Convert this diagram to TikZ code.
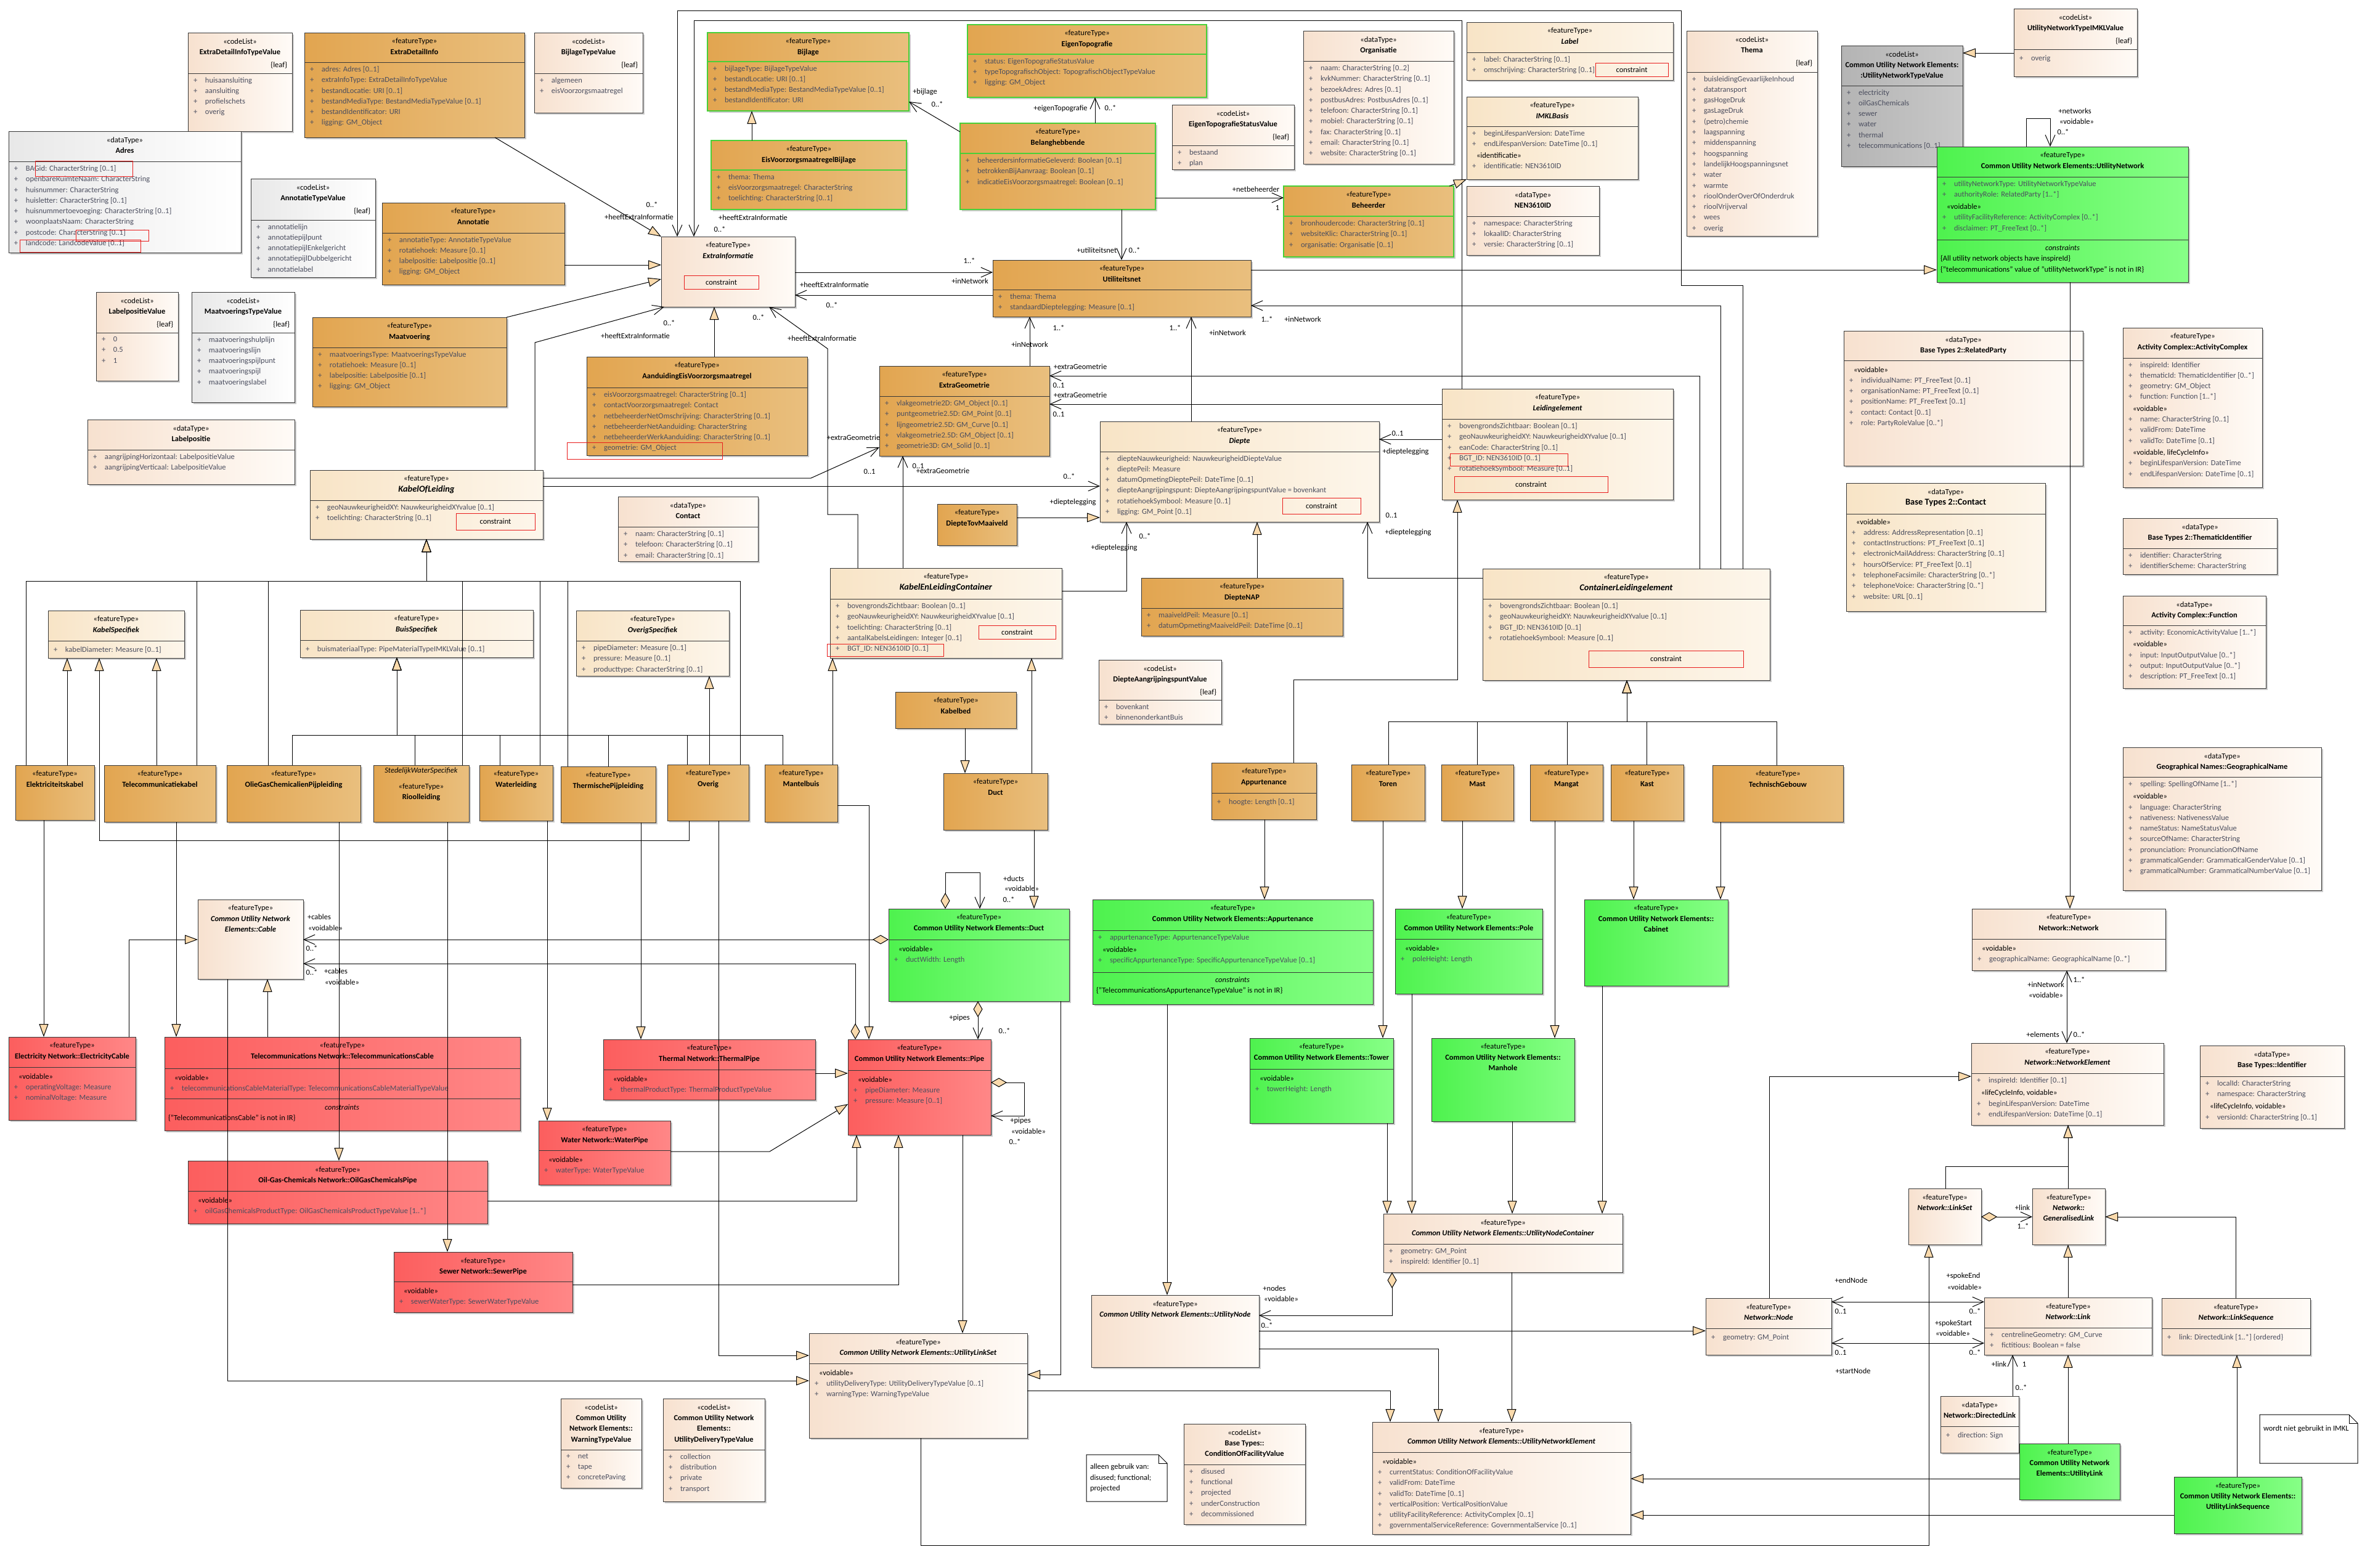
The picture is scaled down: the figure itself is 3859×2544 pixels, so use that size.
\documentclass[tikz,border=0pt]{standalone}
\usepackage{fontspec}
\setmainfont{Carlito}
\usetikzlibrary{arrows.meta,shadows}
\definecolor{orL}{RGB}{226,165,80}
\definecolor{orR}{RGB}{233,191,126}
\definecolor{peL}{RGB}{247,225,207}
\definecolor{peR}{RGB}{255,251,247}
\definecolor{yeL}{RGB}{248,228,198}
\definecolor{yeR}{RGB}{253,246,235}
\definecolor{grL}{RGB}{232,232,232}
\definecolor{gnL}{RGB}{78,242,78}
\definecolor{gnR}{RGB}{135,255,135}
\definecolor{rdL}{RGB}{252,94,94}
\definecolor{rdR}{RGB}{255,135,135}
\definecolor{gsL}{RGB}{180,180,180}
\definecolor{gsR}{RGB}{200,200,200}
\definecolor{genf}{RGB}{250,218,172}
\definecolor{attrc}{RGB}{75,78,95}
\definecolor{bordc}{RGB}{55,55,55}
\definecolor{grb}{RGB}{72,208,56}
\definecolor{redc}{RGB}{232,28,28}
\newcommand\fs{\fontsize{12.5}{17.3}\selectfont}
\newcommand\fsl{\fontsize{14.5}{17.3}\selectfont}
\newcommand\pa[1]{\makebox[19pt][l]{+}#1}
\newcommand\stt[1]{\hspace*{7pt}{\color{black}#1}}
\newcommand\ubx[7]{\node[#2, minimum width={#5-#3}, minimum height={#6-#4}, anchor=north west] (#1) at (#3,#4) {};\node[hdt, anchor=north] (#1-h) at ({(#3+#5)/2},#4+9.4) {#7};}
\newcommand\usl[2]{\draw[line width=1pt, bordc] (#1.west |- 0,#2) -- (#1.east |- 0,#2);}
\newcommand\uslg[2]{\draw[line width=2pt, grb] (#1.west |- 0,#2) -- (#1.east |- 0,#2);}
\newcommand\ubd[4]{\node[bdt, anchor=north west] (#1-b) at (#2+9,#3+6.4) {#4};}
\newcommand\uleaf[3]{\node[hdt, anchor=north east] (#1-l) at (#2-8,#3+44) {\{leaf\}};}
\newcommand\cbox[5]{\draw[rbx] (#2,#3) rectangle (#4,#5); \node[hdt] (#1) at ({(#2+#4)/2},{(#3+#5)/2+1}) {constraint};}
\begin{document}
\begin{tikzpicture}[x=1pt,y=-1pt,
  every node/.style={inner sep=0pt,outer sep=0pt},
  bx/.style={draw=bordc,line width=1pt,drop shadow={shadow xshift=3pt,shadow yshift=-3pt,opacity=0.2,fill=black}},
  orng/.style={bx,left color=orL,right color=orR},
  orgr/.style={bx,draw=grb,line width=2pt,left color=orL,right color=orR},
  pch/.style={bx,left color=peL,right color=peR},
  yel/.style={bx,left color=yeL,right color=yeR},
  gry/.style={bx,left color=grL,right color=white},
  gsol/.style={bx,left color=gsL,right color=gsR},
  grn/.style={bx,left color=gnL,right color=gnR},
  rd/.style={bx,left color=rdL,right color=rdR},
  hdt/.style={font=\fs,align=center,text=black,execute at begin node=\strut},
  bdt/.style={font=\fs,align=left,text=attrc,execute at begin node=\strut},
  lbl/.style={font=\fs},
  rbx/.style={draw=redc,line width=1pt},
  gen/.style={line width=1pt,-{Triangle[length=21pt,width=15pt,fill=genf]}},
  nav/.style={line width=1pt,-{Straight Barb[length=18pt,width=16pt]}},
  nav2/.style={line width=1pt,{Straight Barb[length=18pt,width=16pt]}-{Straight Barb[length=18pt,width=16pt]}},
  agg/.style={line width=1pt,{Diamond[length=26pt,width=15pt,fill=genf]}-{Straight Barb[length=18pt,width=16pt]}},
]
\fill[white] (0,0) rectangle (3859,2544);
\useasboundingbox (0,0) rectangle (3859,2544);

% ---------------- top-left area
\ubx{edtv}{pch}{305}{53}{474}{213}{«codeList»\\\textbf{ExtraDetailInfoTypeValue}}
\uleaf{edtv}{474}{53}
\usl{edtv}{119}
\ubd{edtv}{305}{119}{\pa{huisaansluiting}\\\pa{aansluiting}\\\pa{profielschets}\\\pa{overig}}

\ubx{edi}{orng}{494}{53}{851}{223}{«featureType»\\\textbf{ExtraDetailInfo}}
\usl{edi}{101}
\ubd{edi}{494}{101}{\pa{adres: Adres [0..1]}\\\pa{extraInfoType: ExtraDetailInfoTypeValue}\\\pa{bestandLocatie: URI [0..1]}\\\pa{bestandMediaType: BestandMediaTypeValue [0..1]}\\\pa{bestandIdentificator: URI}\\\pa{ligging: GM\_Object}}

\ubx{adres}{gry}{14}{213}{391}{410}{«dataType»\\\textbf{Adres}}
\usl{adres}{262}
\ubd{adres}{14}{262}{\pa{BAGid: CharacterString [0..1]}\\\pa{openbareRuimteNaam: CharacterString}\\\pa{huisnummer: CharacterString}\\\pa{huisletter: CharacterString [0..1]}\\\pa{huisnummertoevoeging: CharacterString [0..1]}\\\pa{woonplaatsNaam: CharacterString}\\\pa{postcode: CharacterString [0..1]}\\\pa{landcode: LandcodeValue [0..1]}}
\draw[rbx] (57,261) rectangle (215,286);
\draw[rbx] (123,373) rectangle (241,391);
\draw[rbx] (32,389) rectangle (228,409);

\ubx{bijtv}{pch}{867}{53}{1043}{183}{«codeList»\\\textbf{BijlageTypeValue}}
\uleaf{bijtv}{1043}{53}
\usl{bijtv}{119}
\ubd{bijtv}{867}{119}{\pa{algemeen}\\\pa{eisVoorzorgsmaatregel}}

\ubx{annotv}{gry}{407}{290}{609}{450}{«codeList»\\\textbf{AnnotatieTypeValue}}
\uleaf{annotv}{609}{290}
\usl{annotv}{357}
\ubd{annotv}{407}{357}{\pa{annotatielijn}\\\pa{annotatiepijlpunt}\\\pa{annotatiepijlEnkelgericht}\\\pa{annotatiepijlDubbelgericht}\\\pa{annotatielabel}}

\ubx{annot}{orng}{620}{329}{916}{462}{«featureType»\\\textbf{Annotatie}}
\usl{annot}{378}
\ubd{annot}{620}{378}{\pa{annotatieType: AnnotatieTypeValue}\\\pa{rotatiehoek: Measure [0..1]}\\\pa{labelpositie: Labelpositie [0..1]}\\\pa{ligging: GM\_Object}}

\ubx{lpv}{pch}{156}{474}{289}{618}{«codeList»\\\textbf{LabelpositieValue}}
\uleaf{lpv}{289}{474}
\usl{lpv}{540}
\ubd{lpv}{156}{540}{\pa{0}\\\pa{0.5}\\\pa{1}}

\ubx{mtv}{gry}{311}{474}{478}{653}{«codeList»\\\textbf{MaatvoeringsTypeValue}}
\uleaf{mtv}{478}{474}
\usl{mtv}{540}
\ubd{mtv}{311}{540}{\pa{maatvoeringshulplijn}\\\pa{maatvoeringslijn}\\\pa{maatvoeringspijlpunt}\\\pa{maatvoeringspijl}\\\pa{maatvoeringslabel}}

\ubx{maat}{orng}{507}{515}{822}{660}{«featureType»\\\textbf{Maatvoering}}
\usl{maat}{564}
\ubd{maat}{507}{564}{\pa{maatvoeringsType: MaatvoeringsTypeValue}\\\pa{rotatiehoek: Measure [0..1]}\\\pa{labelpositie: Labelpositie [0..1]}\\\pa{ligging: GM\_Object}}

\ubx{lp}{pch}{142}{681}{478}{786}{«dataType»\\\textbf{Labelpositie}}
\usl{lp}{730}
\ubd{lp}{142}{730}{\pa{aangrijpingHorizontaal: LabelpositieValue}\\\pa{aangrijpingVerticaal: LabelpositieValue}}

\ubx{kol}{yel}{503}{763}{881}{875}{«featureType»\\{\fsl\textbf{\textit{KabelOfLeiding}}}}
\usl{kol}{812}
\ubd{kol}{503}{812}{\pa{geoNauwkeurigheidXY: NauwkeurigheidXYvalue [0..1]}\\\pa{toelichting: CharacterString [0..1]}}
\cbox{kolc}{740}{833}{868}{860}

% ---------------- top-middle
\ubx{bijlage}{orgr}{1148}{53}{1475}{180}{«featureType»\\\textbf{Bijlage}}
\uslg{bijlage}{100}
\ubd{bijlage}{1148}{100}{\pa{bijlageType: BijlageTypeValue}\\\pa{bestandLocatie: URI [0..1]}\\\pa{bestandMediaType: BestandMediaTypeValue [0..1]}\\\pa{bestandIdentificator: URI}}

\ubx{evb}{orgr}{1154}{228}{1471}{340}{«featureType»\\\textbf{EisVoorzorgsmaatregelBijlage}}
\uslg{evb}{276}
\ubd{evb}{1154}{276}{\pa{thema: Thema}\\\pa{eisVoorzorgsmaatregel: CharacterString}\\\pa{toelichting: CharacterString [0..1]}}

\ubx{eigtopo}{orgr}{1570}{40}{1958}{158}{«featureType»\\\textbf{EigenTopografie}}
\uslg{eigtopo}{88}
\ubd{eigtopo}{1570}{88}{\pa{status: EigenTopografieStatusValue}\\\pa{typeTopografischObject: TopografischObjectTypeValue}\\\pa{ligging: GM\_Object}}

\ubx{belang}{orgr}{1558}{200}{1875}{340}{«featureType»\\\textbf{Belanghebbende}}
\uslg{belang}{249}
\ubd{belang}{1558}{249}{\pa{beheerdersinformatieGeleverd: Boolean [0..1]}\\\pa{betrokkenBijAanvraag: Boolean [0..1]}\\\pa{indicatieEisVoorzorgsmaatregel: Boolean [0..1]}}

\ubx{etsv}{pch}{1902}{170}{2100}{275}{«codeList»\\\textbf{EigenTopografieStatusValue}}
\uleaf{etsv}{2100}{170}
\usl{etsv}{236}
\ubd{etsv}{1902}{236}{\pa{bestaand}\\\pa{plan}}

\ubx{extrainf}{pch}{1073}{384}{1290}{498}{«featureType»\\\textbf{\textit{ExtraInformatie}}}
\cbox{eic}{1110}{447}{1231}{469}

\ubx{util}{orng}{1611}{422}{2030}{514}{«featureType»\\\textbf{Utiliteitsnet}}
\usl{util}{470}
\ubd{util}{1611}{470}{\pa{thema: Thema}\\\pa{standaardDieptelegging: Measure [0..1]}}

\ubx{aanduid}{orng}{952}{579}{1310}{739}{«featureType»\\\textbf{AanduidingEisVoorzorgsmaatregel}}
\usl{aanduid}{629}
\ubd{aanduid}{952}{629}{\pa{eisVoorzorgsmaatregel: CharacterString [0..1]}\\\pa{contactVoorzorgsmaatregel: Contact}\\\pa{netbeheerderNetOmschrijving: CharacterString [0..1]}\\\pa{netbeheerderNetAanduiding: CharacterString}\\\pa{netbeheerderWerkAanduiding: CharacterString [0..1]}\\\pa{geometrie: GM\_Object}}
\draw[rbx] (920,718) rectangle (1172,745);

\ubx{extrageo}{orng}{1427}{594}{1703}{740}{«featureType»\\\textbf{ExtraGeometrie}}
\usl{extrageo}{643}
\ubd{extrageo}{1427}{643}{\pa{vlakgeometrie2D: GM\_Object [0..1]}\\\pa{puntgeometrie2.5D: GM\_Point [0..1]}\\\pa{lijngeometrie2.5D: GM\_Curve [0..1]}\\\pa{vlakgeometrie2.5D: GM\_Object [0..1]}\\\pa{geometrie3D: GM\_Solid [0..1]}}

\ubx{contact}{pch}{1003}{806}{1230}{911}{«dataType»\\\textbf{Contact}}
\usl{contact}{855}
\ubd{contact}{1003}{855}{\pa{naam: CharacterString [0..1]}\\\pa{telefoon: CharacterString [0..1]}\\\pa{email: CharacterString [0..1]}}

\ubx{diepte}{yel}{1785}{684}{2238}{847}{«featureType»\\\textbf{\textit{Diepte}}}
\usl{diepte}{733}
\ubd{diepte}{1785}{733}{\pa{diepteNauwkeurigheid: NauwkeurigheidDiepteValue}\\\pa{dieptePeil: Measure}\\\pa{datumOpmetingDieptePeil: DateTime [0..1]}\\\pa{diepteAangrijpingspunt: DiepteAangrijpingspuntValue = bovenkant}\\\pa{rotatiehoekSymbool: Measure [0..1]}\\\pa{ligging: GM\_Point [0..1]}}
\cbox{dpc}{2081}{808}{2208}{834}

\ubx{dtm}{orng}{1521}{818}{1650}{885}{«featureType»\\\textbf{DiepteTovMaaiveld}}

% ---------------- top-right
\ubx{organ}{pch}{2115}{50}{2359}{266}{«dataType»\\\textbf{Organisatie}}
\usl{organ}{99}
\ubd{organ}{2115}{99}{\pa{naam: CharacterString [0..2]}\\\pa{kvkNummer: CharacterString [0..1]}\\\pa{bezoekAdres: Adres [0..1]}\\\pa{postbusAdres: PostbusAdres [0..1]}\\\pa{telefoon: CharacterString [0..1]}\\\pa{mobiel: CharacterString [0..1]}\\\pa{fax: CharacterString [0..1]}\\\pa{email: CharacterString [0..1]}\\\pa{website: CharacterString [0..1]}}

\ubx{label}{yel}{2380}{36}{2715}{130}{«featureType»\\\textbf{\textit{Label}}}
\usl{label}{85}
\ubd{label}{2380}{85}{\pa{label: CharacterString [0..1]}\\\pa{omschrijving: CharacterString [0..1]}}
\cbox{lbc}{2589}{102}{2707}{124}

\ubx{imkl}{yel}{2380}{157}{2658}{291}{«featureType»\\\textbf{\textit{IMKLBasis}}}
\usl{imkl}{205}
\ubd{imkl}{2380}{205}{\pa{beginLifespanVersion: DateTime}\\\pa{endLifespanVersion: DateTime [0..1]}\\[2pt]\stt{«identificatie»}\\\pa{identificatie: NEN3610ID}}

\ubx{nen}{pch}{2380}{302}{2595}{414}{«dataType»\\\textbf{NEN3610ID}}
\usl{nen}{351}
\ubd{nen}{2380}{351}{\pa{namespace: CharacterString}\\\pa{lokaalID: CharacterString}\\\pa{versie: CharacterString [0..1]}}

\ubx{thema}{pch}{2737}{50}{2949}{383}{«codeList»\\\textbf{Thema}}
\uleaf{thema}{2949}{50}
\usl{thema}{117}
\ubd{thema}{2737}{117}{\pa{buisleidingGevaarlijkeInhoud}\\\pa{datatransport}\\\pa{gasHogeDruk}\\\pa{gasLageDruk}\\\pa{(petro)chemie}\\\pa{laagspanning}\\\pa{middenspanning}\\\pa{hoogspanning}\\\pa{landelijkHoogspanningsnet}\\\pa{water}\\\pa{warmte}\\\pa{rioolOnderOverOfOnderdruk}\\\pa{rioolVrijverval}\\\pa{wees}\\\pa{overig}}

\ubx{beheerder}{orgr}{2083}{302}{2359}{417}{«featureType»\\\textbf{Beheerder}}
\uslg{beheerder}{351}
\ubd{beheerder}{2083}{351}{\pa{bronhoudercode: CharacterString [0..1]}\\\pa{websiteKlic: CharacterString [0..1]}\\\pa{organisatie: Organisatie [0..1]}}

\ubx{leidel}{yel}{2340}{631}{2715}{811}{«featureType»\\\textbf{\textit{Leidingelement}}}
\usl{leidel}{680}
\ubd{leidel}{2340}{680}{\pa{bovengrondsZichtbaar: Boolean [0..1]}\\\pa{geoNauwkeurigheidXY: NauwkeurigheidXYvalue [0..1]}\\\pa{eanCode: CharacterString [0..1]}\\\pa{BGT\_ID: NEN3610ID [0..1]}\\\pa{rotatiehoekSymbool: Measure [0..1]}}
\draw[rbx] (2353,736) rectangle (2544,756);
\cbox{lec}{2360}{773}{2609}{799}

\ubx{untv}{gsol}{2988}{74}{3185}{270}{«codeList»\\\textbf{Common Utility Network Elements:}\\\textbf{:UtilityNetworkTypeValue}}
\usl{untv}{139}
\ubd{untv}{2988}{139}{\pa{electricity}\\\pa{oilGasChemicals}\\\pa{sewer}\\\pa{water}\\\pa{thermal}\\\pa{telecommunications [0..1]}}

\ubx{untimkl}{pch}{3268}{14}{3468}{124}{«codeList»\\\textbf{UtilityNetworkTypeIMKLValue}}
\uleaf{untimkl}{3468}{14}
\usl{untimkl}{80}
\ubd{untimkl}{3268}{80}{\pa{overig}}

\ubx{un}{grn}{3143}{238}{3551}{458}{«featureType»\\\textbf{Common Utility Network Elements::UtilityNetwork}}
\usl{un}{287}
\ubd{un}{3143}{287}{\pa{utilityNetworkType: UtilityNetworkTypeValue}\\\pa{authorityRole: RelatedParty [1..*]}\\[3pt]\stt{«voidable»}\\\pa{utilityFacilityReference: ActivityComplex [0..*]}\\\pa{disclaimer: PT\_FreeText [0..*]}}
\usl{un}{389}
\node[hdt,font=\fs\itshape] (un-c) at (3347,403) {constraints};
\node[hdt,anchor=west] (un-c1) at (3149,420) {\{All utility network objects have inspireId\}};
\node[hdt,anchor=west] (un-c2) at (3149,438) {\{"telecommunications" value of "utilityNetworkType" is not in IR\}};

\ubx{rp}{pch}{2992}{537}{3380}{756}{«dataType»\\\textbf{Base Types 2::RelatedParty}}
\usl{rp}{585}
\ubd{rp}{2992}{589}{\stt{«voidable»}\\\pa{individualName: PT\_FreeText [0..1]}\\\pa{organisationName: PT\_FreeText [0..1]}\\\pa{positionName: PT\_FreeText [0..1]}\\\pa{contact: Contact [0..1]}\\\pa{role: PartyRoleValue [0..*]}}

\ubx{ac}{pch}{3445}{532}{3671}{791}{«featureType»\\\textbf{Activity Complex::ActivityComplex}}
\usl{ac}{581}
\ubd{ac}{3445}{581}{\pa{inspireId: Identifier}\\\pa{thematicId: ThematicIdentifier [0..*]}\\\pa{geometry: GM\_Object}\\\pa{function: Function [1..*]}\\[2pt]\stt{«voidable»}\\\pa{name: CharacterString [0..1]}\\\pa{validFrom: DateTime}\\\pa{validTo: DateTime [0..1]}\\[2pt]\stt{«voidable, lifeCycleInfo»}\\\pa{beginLifespanVersion: DateTime}\\\pa{endLifespanVersion: DateTime [0..1]}}

\ubx{bcontact}{yel}{2996}{784}{3319}{992}{«dataType»\\{\fsl\textbf{Base Types 2::Contact}}}
\usl{bcontact}{834}
\ubd{bcontact}{2996}{836}{\stt{«voidable»}\\\pa{address: AddressRepresentation [0..1]}\\\pa{contactInstructions: PT\_FreeText [0..1]}\\\pa{electronicMailAddress: CharacterString [0..1]}\\\pa{hoursOfService: PT\_FreeText [0..1]}\\\pa{telephoneFacsimile: CharacterString [0..*]}\\\pa{telephoneVoice: CharacterString [0..*]}\\\pa{website: URL [0..1]}}

\ubx{thid}{pch}{3445}{841}{3695}{932}{«dataType»\\\textbf{Base Types 2::ThematicIdentifier}}
\usl{thid}{890}
\ubd{thid}{3445}{890}{\pa{identifier: CharacterString}\\\pa{identifierScheme: CharacterString}}

\ubx{func}{pch}{3445}{967}{3677}{1117}{«dataType»\\\textbf{Activity Complex::Function}}
\usl{func}{1015}
\ubd{func}{3445}{1015}{\pa{activity: EconomicActivityValue [1..*]}\\[2pt]\stt{«voidable»}\\\pa{input: InputOutputValue [0..*]}\\\pa{output: InputOutputValue [0..*]}\\\pa{description: PT\_FreeText [0..1]}}

\ubx{geon}{pch}{3445}{1213}{3767}{1445}{«dataType»\\\textbf{Geographical Names::GeographicalName}}
\usl{geon}{1261}
\ubd{geon}{3445}{1261}{\pa{spelling: SpellingOfName [1..*]}\\[3pt]\stt{«voidable»}\\\pa{language: CharacterString}\\\pa{nativeness: NativenessValue}\\\pa{nameStatus: NameStatusValue}\\\pa{sourceOfName: CharacterString}\\\pa{pronunciation: PronunciationOfName}\\\pa{grammaticalGender: GrammaticalGenderValue [0..1]}\\\pa{grammaticalNumber: GrammaticalNumberValue [0..1]}}

\ubx{network}{pch}{3200}{1475}{3514}{1575}{«featureType»\\\textbf{Network::Network}}
\usl{network}{1524}
\ubd{network}{3200}{1528}{\stt{«voidable»}\\\pa{geographicalName: GeographicalName [0..*]}}

\ubx{ne}{pch}{3199}{1693}{3511}{1826}{«featureType»\\\textbf{\textit{Network::NetworkElement}}}
\usl{ne}{1742}
\ubd{ne}{3199}{1742}{\pa{inspireId: Identifier [0..1]}\\[3pt]\stt{«lifeCycleInfo, voidable»}\\\pa{beginLifespanVersion: DateTime}\\\pa{endLifespanVersion: DateTime [0..1]}}

\ubx{ident}{pch}{3570}{1697}{3804}{1831}{«dataType»\\\textbf{Base Types::Identifier}}
\usl{ident}{1747}
\ubd{ident}{3570}{1747}{\pa{localId: CharacterString}\\\pa{namespace: CharacterString}\\[3pt]\stt{«lifeCycleInfo, voidable»}\\\pa{versionId: CharacterString [0..1]}}

\ubx{linkset}{pch}{3097}{1929}{3215}{2020}{«featureType»\\\textbf{\textit{Network::LinkSet}}}
\ubx{glink}{pch}{3298}{1929}{3416}{2020}{«featureType»\\\textbf{\textit{Network::}}\\\textbf{\textit{GeneralisedLink}}}

\ubx{link}{pch}{3220}{2106}{3492}{2199}{«featureType»\\\textbf{\textit{Network::Link}}}
\usl{link}{2155}
\ubd{link}{3220}{2155}{\pa{centrelineGeometry: GM\_Curve}\\\pa{fictitious: Boolean = false}}

\ubx{lseq}{pch}{3508}{2107}{3749}{2199}{«featureType»\\\textbf{\textit{Network::LinkSequence}}}
\usl{lseq}{2156}
\ubd{lseq}{3508}{2156}{\pa{link: DirectedLink [1..*] \{ordered\}}}

\ubx{node}{pch}{2768}{2107}{2972}{2199}{«featureType»\\\textbf{\textit{Network::Node}}}
\usl{node}{2156}
\ubd{node}{2768}{2156}{\pa{geometry: GM\_Point}}

\ubx{dlink}{pch}{3149}{2266}{3276}{2358}{«dataType»\\\textbf{Network::DirectedLink}}
\usl{dlink}{2315}
\ubd{dlink}{3149}{2315}{\pa{direction: Sign}}

\ubx{ulink}{grn}{3277}{2343}{3440}{2434}{«featureType»\\\textbf{Common Utility Network}\\\textbf{Elements::UtilityLink}}
\ubx{ulseq}{grn}{3528}{2397}{3735}{2489}{«featureType»\\\textbf{Common Utility Network Elements::}\\\textbf{UtilityLinkSequence}}

\draw[line width=1pt,fill=white] (3667,2296) -- (3812,2296) -- (3826,2310) -- (3826,2375) -- (3667,2375) -- cycle;
\draw[line width=1pt] (3812,2296) -- (3812,2310) -- (3826,2310);
\node[hdt,anchor=north west,align=left] (note1) at (3673,2310) {wordt niet gebruikt in IMKL};

% ---------------- middle row (IMKL objects)
\ubx{kspec}{yel}{78}{991}{299}{1068}{«featureType»\\\textbf{\textit{KabelSpecifiek}}}
\usl{kspec}{1040}
\ubd{kspec}{78}{1040}{\pa{kabelDiameter: Measure [0..1]}}

\ubx{bspec}{yel}{487}{990}{865}{1067}{«featureType»\\\textbf{\textit{BuisSpecifiek}}}
\usl{bspec}{1039}
\ubd{bspec}{487}{1039}{\pa{buismateriaalType: PipeMaterialTypeIMKLValue [0..1]}}

\ubx{ospec}{yel}{935}{991}{1183}{1097}{«featureType»\\\textbf{\textit{OverigSpecifiek}}}
\usl{ospec}{1040}
\ubd{ospec}{935}{1040}{\pa{pipeDiameter: Measure [0..1]}\\\pa{pressure: Measure [0..1]}\\\pa{producttype: CharacterString [0..1]}}

\ubx{ekabel}{orng}{25}{1242}{153}{1331}{«featureType»\\\textbf{Elektriciteitskabel}}
\ubx{tkabel}{orng}{169}{1242}{350}{1334}{«featureType»\\\textbf{Telecommunicatiekabel}}
\ubx{ogcpl}{orng}{368}{1242}{585}{1334}{«featureType»\\\textbf{OlieGasChemicalienPijpleiding}}
\node[orng,minimum width=155,minimum height=92,anchor=north west] (riool) at (606,1242) {};
\node[hdt,anchor=north] (riool-h) at (683.5,1246) {\textit{StedelijkWaterSpecifiek}\\[8pt]«featureType»\\\textbf{Rioolleiding}};
\ubx{waterl}{orng}{778}{1242}{897}{1332}{«featureType»\\\textbf{Waterleiding}}
\ubx{thermpl}{orng}{910}{1244}{1064}{1335}{«featureType»\\\textbf{ThermischePijpleiding}}
\ubx{overig}{orng}{1083}{1241}{1215}{1332}{«featureType»\\\textbf{Overig}}
\ubx{mantel}{orng}{1241}{1241}{1359}{1334}{«featureType»\\\textbf{Mantelbuis}}

\ubx{kelc}{yel}{1347}{922}{1723}{1068}{«featureType»\\{\fsl\textbf{\textit{KabelEnLeidingContainer}}}}
\usl{kelc}{972}
\ubd{kelc}{1347}{972}{\pa{bovengrondsZichtbaar: Boolean [0..1]}\\\pa{geoNauwkeurigheidXY: NauwkeurigheidXYvalue [0..1]}\\\pa{toelichting: CharacterString [0..1]}\\\pa{aantalKabelsLeidingen: Integer [0..1]}\\\pa{BGT\_ID: NEN3610ID [0..1]}}
\draw[rbx] (1342,1045) rectangle (1531,1065);
\cbox{kec}{1588}{1015}{1713}{1037}

\ubx{kabelbed}{orng}{1453}{1123}{1649}{1182}{«featureType»\\\textbf{Kabelbed}}
\ubx{duct}{orng}{1531}{1255}{1700}{1347}{«featureType»\\\textbf{Duct}}

\ubx{dapv}{pch}{1783}{1071}{1982}{1175}{«codeList»\\\textbf{DiepteAangrijpingspuntValue}}
\uleaf{dapv}{1982}{1071}
\usl{dapv}{1136}
\ubd{dapv}{1783}{1136}{\pa{bovenkant}\\\pa{binnenonderkantBuis}}

\ubx{dnap}{orng}{1852}{938}{2179}{1032}{«featureType»\\\textbf{DiepteNAP}}
\usl{dnap}{987}
\ubd{dnap}{1852}{987}{\pa{maaiveldPeil: Measure [0..1]}\\\pa{datumOpmetingMaaiveldPeil: DateTime [0..1]}}

\ubx{cle}{yel}{2406}{923}{2872}{1104}{«featureType»\\{\fsl\textbf{\textit{ContainerLeidingelement}}}}
\usl{cle}{972}
\ubd{cle}{2406}{972}{\pa{bovengrondsZichtbaar: Boolean [0..1]}\\\pa{geoNauwkeurigheidXY: NauwkeurigheidXYvalue [0..1]}\\\pa{BGT\_ID: NEN3610ID [0..1]}\\\pa{rotatiehoekSymbool: Measure [0..1]}}
\cbox{clec}{2578}{1056}{2829}{1083}

\ubx{appur}{orng}{1966}{1238}{2136}{1330}{«featureType»\\\textbf{Appurtenance}}
\usl{appur}{1287}
\ubd{appur}{1966}{1287}{\pa{hoogte: Length [0..1]}}
\ubx{toren}{orng}{2193}{1241}{2312}{1332}{«featureType»\\\textbf{Toren}}
\ubx{mast}{orng}{2339}{1241}{2456}{1332}{«featureType»\\\textbf{Mast}}
\ubx{mangat}{orng}{2483}{1241}{2601}{1332}{«featureType»\\\textbf{Mangat}}
\ubx{kast}{orng}{2614}{1241}{2732}{1332}{«featureType»\\\textbf{Kast}}
\ubx{tgebouw}{orng}{2779}{1242}{2991}{1334}{«featureType»\\\textbf{TechnischGebouw}}

% ---------------- INSPIRE classes
\ubx{cable}{pch}{321}{1460}{492}{1589}{«featureType»\\\textbf{\textit{Common Utility Network}}\\\textbf{\textit{Elements::Cable}}}

\ubx{cduct}{grn}{1442}{1475}{1735}{1625}{«featureType»\\\textbf{Common Utility Network Elements::Duct}}
\usl{cduct}{1525}
\ubd{cduct}{1442}{1529}{\stt{«voidable»}\\\pa{ductWidth: Length}}

\ubx{capp}{grn}{1773}{1460}{2228}{1630}{«featureType»\\\textbf{Common Utility Network Elements::Appurtenance}}
\usl{capp}{1510}
\ubd{capp}{1773}{1510}{\pa{appurtenanceType: AppurtenanceTypeValue}\\[3pt]\stt{«voidable»}\\\pa{specificAppurtenanceType: SpecificAppurtenanceTypeValue [0..1]}}
\usl{capp}{1578}
\node[hdt,font=\fs\itshape] (capp-c) at (2000,1591) {constraints};
\node[hdt,anchor=west] (capp-c1) at (1779,1608) {\{"TelecommunicationsAppurtenanceTypeValue" is not in IR\}};

\ubx{pole}{grn}{2264}{1475}{2503}{1613}{«featureType»\\\textbf{Common Utility Network Elements::Pole}}
\usl{pole}{1524}
\ubd{pole}{2264}{1528}{\stt{«voidable»}\\\pa{poleHeight: Length}}

\ubx{cabinet}{grn}{2571}{1460}{2804}{1600}{«featureType»\\\textbf{Common Utility Network Elements::}\\\textbf{Cabinet}}

\ubx{tower}{grn}{2028}{1685}{2261}{1823}{«featureType»\\\textbf{Common Utility Network Elements::Tower}}
\usl{tower}{1735}
\ubd{tower}{2028}{1739}{\stt{«voidable»}\\\pa{towerHeight: Length}}

\ubx{manhole}{grn}{2323}{1685}{2555}{1820}{«featureType»\\\textbf{Common Utility Network Elements::}\\\textbf{Manhole}}

\ubx{unc}{pch}{2245}{1970}{2633}{2065}{«featureType»\\\textbf{\textit{Common Utility Network Elements::UtilityNodeContainer}}}
\usl{unc}{2019}
\ubd{unc}{2245}{2019}{\pa{geometry: GM\_Point}\\\pa{inspireId: Identifier [0..1]}}

\ubx{unode}{pch}{1771}{2102}{2043}{2219}{«featureType»\\\textbf{\textit{Common Utility Network Elements::UtilityNode}}}

\ubx{une}{pch}{2227}{2308}{2646}{2490}{«featureType»\\\textbf{\textit{Common Utility Network Elements::UtilityNetworkElement}}}
\usl{une}{2357}
\ubd{une}{2227}{2361}{\stt{«voidable»}\\\pa{currentStatus: ConditionOfFacilityValue}\\\pa{validFrom: DateTime}\\\pa{validTo: DateTime [0..1]}\\\pa{verticalPosition: VerticalPositionValue}\\\pa{utilityFacilityReference: ActivityComplex [0..1]}\\\pa{governmentalServiceReference: GovernmentalService [0..1]}}

\ubx{cofv}{pch}{1921}{2311}{2118}{2474}{«codeList»\\\textbf{Base Types::}\\\textbf{ConditionOfFacilityValue}}
\usl{cofv}{2377}
\ubd{cofv}{1921}{2377}{\pa{disused}\\\pa{functional}\\\pa{projected}\\\pa{underConstruction}\\\pa{decommissioned}}

\ubx{thermal}{rd}{979}{1687}{1323}{1785}{«featureType»\\\textbf{Thermal Network::ThermalPipe}}
\usl{thermal}{1736}
\ubd{thermal}{979}{1740}{\stt{«voidable»}\\\pa{thermalProductType: ThermalProductTypeValue}}

\ubx{pipe}{rd}{1376}{1687}{1608}{1842}{«featureType»\\\textbf{Common Utility Network Elements::Pipe}}
\usl{pipe}{1737}
\ubd{pipe}{1376}{1741}{\stt{«voidable»}\\\pa{pipeDiameter: Measure}\\\pa{pressure: Measure [0..1]}}

\ubx{waterpipe}{rd}{874}{1819}{1088}{1923}{«featureType»\\\textbf{Water Network::WaterPipe}}
\usl{waterpipe}{1867}
\ubd{waterpipe}{874}{1871}{\stt{«voidable»}\\\pa{waterType: WaterTypeValue}}

\ubx{uls}{pch}{1313}{2164}{1667}{2334}{«featureType»\\\textbf{\textit{Common Utility Network Elements::UtilityLinkSet}}}
\usl{uls}{2213}
\ubd{uls}{1313}{2217}{\stt{«voidable»}\\\pa{utilityDeliveryType: UtilityDeliveryTypeValue [0..1]}\\\pa{warningType: WarningTypeValue}}

\ubx{udtv}{pch}{1076}{2270}{1241}{2437}{«codeList»\\\textbf{Common Utility Network}\\\textbf{Elements::}\\\textbf{UtilityDeliveryTypeValue}}
\usl{udtv}{2353}
\ubd{udtv}{1076}{2353}{\pa{collection}\\\pa{distribution}\\\pa{private}\\\pa{transport}}

\ubx{wtv}{pch}{910}{2270}{1041}{2415}{«codeList»\\\textbf{Common Utility}\\\textbf{Network Elements::}\\\textbf{WarningTypeValue}}
\usl{wtv}{2353}
\ubd{wtv}{910}{2353}{\pa{net}\\\pa{tape}\\\pa{concretePaving}}

\draw[line width=1pt,fill=white] (1763,2361) -- (1880,2361) -- (1894,2375) -- (1894,2437) -- (1763,2437) -- cycle;
\draw[line width=1pt] (1880,2361) -- (1880,2375) -- (1894,2375);
\node[hdt,anchor=north west,align=left] (note2) at (1769,2376) {alleen gebruik van:\\disused; functional;\\projected};

\ubx{ecable}{rd}{14}{1683}{220}{1818}{«featureType»\\\textbf{Electricity Network::ElectricityCable}}
\usl{ecable}{1732}
\ubd{ecable}{14}{1736}{\stt{«voidable»}\\\pa{operatingVoltage: Measure}\\\pa{nominalVoltage: Measure}}

\ubx{tcable}{rd}{267}{1683}{844}{1835}{«featureType»\\\textbf{Telecommunications Network::TelecommunicationsCable}}
\usl{tcable}{1734}
\ubd{tcable}{267}{1738}{\stt{«voidable»}\\\pa{telecommunicationsCableMaterialType: TelecommunicationsCableMaterialTypeValue}}
\usl{tcable}{1783}
\node[hdt,font=\fs\itshape] (tcable-c) at (555,1798) {constraints};
\node[hdt,anchor=west] (tcable-c1) at (273,1815) {\{"TelecommunicationsCable" is not in IR\}};

\ubx{ogcp}{rd}{305}{1884}{791}{1986}{«featureType»\\\textbf{Oil-Gas-Chemicals Network::OilGasChemicalsPipe}}
\usl{ogcp}{1933}
\ubd{ogcp}{305}{1937}{\stt{«voidable»}\\\pa{oilGasChemicalsProductType: OilGasChemicalsProductTypeValue [1..*]}}

\ubx{sewer}{rd}{639}{2032}{929}{2130}{«featureType»\\\textbf{Sewer Network::SewerPipe}}
\usl{sewer}{2080}
\ubd{sewer}{639}{2084}{\stt{«voidable»}\\\pa{sewerWaterType: SewerWaterTypeValue}}

% ================= CONNECTORS
\draw[gen] (803,0 |- edi.south) -- (extrainf.north west);
\draw[gen] (annot.east |- 0,430) -- (extrainf.west |- 0,430);
\draw[gen] (822,0 |- maat.north) -- (extrainf.west |- 0,453);
\draw[nav] (868,0 |- kol.north) -- (868,556) -- (1078,0 |- extrainf.south);
\draw[gen] (1159,0 |- aanduid.north) -- (1159,0 |- extrainf.south);
\draw[nav] (extrainf.east |- 0,442) -- (util.west |- 0,442);
\draw[nav] (util.west |- 0,479) -- (extrainf.east |- 0,479);
\draw[nav] (1392,0 |- kelc.north) -- (1392,835) -- (1343,835) -- (1343,566) -- (1248,0 |- extrainf.south);
\draw[nav] (2372,0 |- leidel.north) -- (2372,33) -- (1126,33) -- (1126,0 |- extrainf.north);
\draw[nav] (2828,0 |- cle.north) -- (2828,463) -- (2728,463) -- (2728,17) -- (1099,17) -- (1099,0 |- extrainf.north);
\draw[gen] (1220,0 |- evb.north) -- (1220,0 |- bijlage.south);
\draw[nav] (belang.west |- 0,214) -- (bijlage.east |- 0,165);
\draw[nav] (1777,0 |- belang.north) -- (1777,0 |- eigtopo.south);
\draw[nav] (1820,0 |- belang.south) -- (1820,0 |- util.north);
\draw[nav] (belang.east |- 0,321) -- (beheerder.west |- 0,321);
\draw[gen] (2352,0 |- beheerder.north) -- (imkl.south west);
\draw[gen] (util.east |- 0,438) -- (un.west |- 0,438);
\draw[nav] (2792,0 |- cle.north) -- (2792,496) -- (util.east |- 0,496);
\draw[nav] (1671,0 |- extrageo.north) -- (1671,0 |- util.south);
\draw[nav] (1933,0 |- diepte.north) -- (1933,0 |- util.south);
\draw[nav] (2758,0 |- cle.north) -- (2758,610) -- (extrageo.east |- 0,610);
\draw[nav] (leidel.west |- 0,656) -- (extrageo.east |- 0,656);
\draw[nav] (leidel.west |- 0,713) -- (diepte.east |- 0,713);
\draw[nav] (kol.east |- 0,776) -- (1316,776) -- (extrageo.west |- 0,726);
\draw[nav] (kol.east |- 0,789) -- (diepte.west |- 0,789);
\draw[nav] (1465,0 |- kelc.north) -- (1465,0 |- extrageo.south);
\draw[gen] (dtm.east |- 0,840) -- (diepte.west |- 0,840);
\draw[gen] (2040,0 |- dnap.north) -- (2040,0 |- diepte.south);
\draw[nav] (kelc.east |- 0,959) -- (1828,959) -- (1828,0 |- diepte.south);
\draw[nav] (cle.west |- 0,938) -- (2219,938) -- (2219,0 |- diepte.south);
\draw[gen] (2099,0 |- appur.north) -- (2099,1103) -- (2365,1103) -- (2365,0 |- leidel.south);
\foreach \x/\n in {2253/toren,2397/mast,2543/mangat,2672/kast,2883/tgebouw}
  \draw[gen] (\x,0 |- \n.north) -- (\x,1171) -- (2640,1171) -- (2640,0 |- cle.south);
\foreach \x/\n in {42/ekabel,319/tkabel,435/ogcpl,750/riool,876/waterl,921/thermpl,1201/overig}
  \draw[gen] (\x,0 |- \n.north) -- (\x,943) -- (692,943) -- (692,0 |- kol.south);
\draw[gen] (109,0 |- ekabel.north) -- (109,0 |- kspec.south);
\draw[gen] (254,0 |- tkabel.north) -- (254,0 |- kspec.south);
\draw[gen] (1118,0 |- overig.south) -- (1118,1364) -- (161,1364) -- (161,0 |- kspec.south);
\foreach \x/\n in {474/ogcpl,673/riool,811/waterl,987/thermpl,1115/overig,1270/mantel}
  \draw[gen] (\x,0 |- \n.north) -- (\x,1193) -- (644,1193) -- (644,0 |- bspec.south);
\draw[gen] (1151,0 |- overig.north) -- (1151,0 |- ospec.south);
\draw[gen] (1351,0 |- mantel.north) -- (1351,0 |- kelc.south);
\draw[gen] (1674,0 |- duct.north) -- (1674,0 |- kelc.south);
\draw[gen] (1566,0 |- kabelbed.south) -- (1566,0 |- duct.north);

\draw[gen] (71,0 |- ekabel.south) -- (71,0 |- ecable.north);
\draw[gen] (286,0 |- tkabel.south) -- (286,0 |- tcable.north);
\draw[gen] (550,0 |- ogcpl.south) -- (550,0 |- ogcp.north);
\draw[gen] (726,0 |- riool.south) -- (726,0 |- sewer.north);
\draw[gen] (888,0 |- waterl.south) -- (888,0 |- waterpipe.north);
\draw[gen] (1040,0 |- thermpl.south) -- (1040,0 |- thermal.north);
\draw[gen] (1166,0 |- overig.south) -- (1166,2200) -- (uls.west |- 0,2200);
\draw[gen] (mantel.east |- 0,1307) -- (1410,1307) -- (1410,0 |- pipe.north);
\draw[gen] (1678,0 |- duct.south) -- (1678,0 |- cduct.north);
\draw[gen] (2052,0 |- appur.south) -- (2052,0 |- capp.north);
\draw[gen] (2244,0 |- toren.south) -- (2244,0 |- tower.north);
\draw[gen] (2373,0 |- mast.south) -- (2373,0 |- pole.north);
\draw[gen] (2523,0 |- mangat.south) -- (2523,0 |- manhole.north);
\draw[gen] (2651,0 |- kast.south) -- (2651,0 |- cabinet.north);
\draw[gen] (2792,0 |- tgebouw.south) -- (2792,0 |- cabinet.north);

\draw[gen] (209,0 |- ecable.north) -- (209,1525) -- (cable.west |- 0,1525);
\draw[gen] (434,0 |- tcable.north) -- (434,0 |- cable.south);
\draw[gen] (369,0 |- cable.south) -- (369,2241) -- (uls.west |- 0,2241);
\draw[agg] (cduct.west |- 0,1525) -- (cable.east |- 0,1525);
\draw[agg] (1388,0 |- pipe.north) -- (1388,1564) -- (cable.east |- 0,1564);
\draw[agg] (1534,0 |- cduct.north) -- (1534,1416) -- (1590,1416) -- (1590,0 |- cduct.north);
\draw[agg] (1587,0 |- cduct.south) -- (1587,0 |- pipe.north);
\draw[gen] (1721,0 |- cduct.south) -- (1721,2231) -- (uls.east |- 0,2231);
\draw[gen] (1894,0 |- capp.south) -- (1894,0 |- unode.north);
\draw[gen] (thermal.east |- 0,1742) -- (pipe.west |- 0,1742);
\draw[gen] (waterpipe.east |- 0,1869) -- (1249,1869) -- (pipe.west |- 0,1792);
\draw[gen] (ogcp.east |- 0,1949) -- (1390,1949) -- (1390,0 |- pipe.south);
\draw[gen] (sewer.east |- 0,2085) -- (1458,2085) -- (1458,0 |- pipe.south);
\draw[gen] (1562,0 |- pipe.south) -- (1562,0 |- uls.north);
\draw[agg] (pipe.east |- 0,1757) -- (1662,1757) -- (1662,1811) -- (pipe.east |- 0,1811);

\draw[gen] (2251,0 |- tower.south) -- (2251,0 |- unc.north);
\draw[gen] (2291,0 |- pole.south) -- (2291,0 |- unc.north);
\draw[gen] (2454,0 |- manhole.south) -- (2454,0 |- unc.north);
\draw[gen] (2600,0 |- cabinet.south) -- (2600,0 |- unc.north);
\draw[agg] (2259,0 |- unc.south) -- (2259,2135) -- (unode.east |- 0,2135);
\draw[gen] (unode.east |- 0,2160) -- (node.west |- 0,2160);
\draw[gen] (unode.east |- 0,2189) -- (2334,2189) -- (2334,0 |- une.north);
\draw[gen] (2453,0 |- unc.south) -- (2453,0 |- une.north);
\draw[gen] (uls.east |- 0,2257) -- (2256,2257) -- (2256,0 |- une.north);
\draw[gen] (1494,0 |- uls.south) -- (1494,2508) -- (3130,2508) -- (3130,0 |- linkset.south);
\draw[gen] (ulink.west |- 0,2400) -- (une.east |- 0,2400);
\draw[gen] (ulseq.west |- 0,2459) -- (une.east |- 0,2459);
\draw[gen] (3356,0 |- ulink.north) -- (3356,0 |- link.south);
\draw[gen] (3630,0 |- ulseq.north) -- (3630,0 |- lseq.south);
\draw[nav] (3266,0 |- dlink.north) -- (3266,0 |- link.south);
\draw[gen] (3356,0 |- link.north) -- (3356,0 |- glink.south);
\draw[gen] (3628,0 |- lseq.north) -- (3628,1975) -- (glink.east |- 0,1975);
\draw[agg] (linkset.east |- 0,1975) -- (glink.west |- 0,1975);
\draw[gen] (3157,0 |- linkset.north) -- (3157,1893) -- (3356,1893) -- (3356,0 |- ne.south);
\draw[gen] (3356,0 |- glink.north) -- (3356,0 |- ne.south);
\draw[gen] (2871,0 |- node.north) -- (2871,1747) -- (ne.west |- 0,1747);
\draw[nav2] (link.west |- 0,2113) -- (node.east |- 0,2113);
\draw[nav2] (link.west |- 0,2180) -- (node.east |- 0,2180);
\draw[nav2] (3354,0 |- network.south) -- (3354,0 |- ne.north);
\draw[gen] (3359,0 |- un.south) -- (3359,0 |- network.north);
\draw[nav] (3288,0 |- un.north) -- (3288,192) -- (3327,192) -- (3327,0 |- un.north);
\draw[gen] (untimkl.west |- 0,86) -- (untv.east |- 0,86);

% ================= LABELS
\node[lbl] at (1037,352) {+heeftExtraInformatie};
\node[lbl] at (1058,332) {0..*};
\node[lbl] at (1222,353) {+heeftExtraInformatie};
\node[lbl] at (1168,372) {0..*};
\node[lbl] at (1354,462) {+heeftExtraInformatie};
\node[lbl] at (1350,495) {0..*};
\node[lbl] at (1573,423) {1..*};
\node[lbl] at (1574,456) {+inNetwork};
\node[lbl] at (1086,524) {0..*};
\node[lbl] at (1031,545) {+heeftExtraInformatie};
\node[lbl] at (1231,515) {0..*};
\node[lbl] at (1334,549) {+heeftExtraInformatie};
\node[lbl] at (1501,149) {+bijlage};
\node[lbl] at (1521,169) {0..*};
\node[lbl] at (1721,176) {+eigenTopografie};
\node[lbl] at (1802,175) {0..*};
\node[lbl] at (1780,406) {+utiliteitsnet};
\node[lbl] at (1841,406) {0..*};
\node[lbl] at (2038,307) {+netbeheerder};
\node[lbl] at (2073,337) {1};
\node[lbl] at (1718,532) {1..*};
\node[lbl] at (1671,559) {+inNetwork};
\node[lbl] at (1907,532) {1..*};
\node[lbl] at (1992,540) {+inNetwork};
\node[lbl] at (2056,518) {1..*};
\node[lbl] at (2114,518) {+inNetwork};
\node[lbl] at (1753,595) {+extraGeometrie};
\node[lbl] at (1718,625) {0..1};
\node[lbl] at (1753,641) {+extraGeometrie};
\node[lbl] at (1718,672) {0..1};
\node[lbl] at (2268,703) {0..1};
\node[lbl] at (2281,733) {+dieptelegging};
\node[lbl] at (1385,710) {+extraGeometrie};
\node[lbl] at (1411,765) {0..1};
\node[lbl] at (1735,773) {0..*};
\node[lbl] at (1741,815) {+dieptelegging};
\node[lbl] at (1490,756) {0..1};
\node[lbl] at (1530,764) {+extraGeometrie};
\node[lbl] at (1858,870) {0..*};
\node[lbl] at (1808,889) {+dieptelegging};
\node[lbl] at (2285,864) {+dieptelegging};
\node[lbl] at (2258,836) {0..1};
\node[lbl] at (518,1488) {+cables};
\node[lbl] at (528,1506) {«voidable»};
\node[lbl] at (506,1539) {0..*};
\node[lbl] at (506,1578) {0..*};
\node[lbl] at (545,1576) {+cables};
\node[lbl] at (555,1594) {«voidable»};
\node[lbl] at (1645,1426) {+ducts};
\node[lbl] at (1658,1442) {«voidable»};
\node[lbl] at (1637,1460) {0..*};
\node[lbl] at (1557,1652) {+pipes};
\node[lbl] at (1630,1673) {0..*};
\node[lbl] at (1656,1819) {+pipes};
\node[lbl] at (1669,1836) {«voidable»};
\node[lbl] at (1647,1853) {0..*};
\node[lbl] at (3367,180) {+networks};
\node[lbl] at (3370,197) {«voidable»};
\node[lbl] at (3348,214) {0..*};
\node[lbl] at (3320,1598) {+inNetwork};
\node[lbl] at (3320,1615) {«voidable»};
\node[lbl] at (3374,1590) {1..*};
\node[lbl] at (3315,1679) {+elements};
\node[lbl] at (3374,1679) {0..*};
\node[lbl] at (2068,2091) {+nodes};
\node[lbl] at (2079,2108) {«voidable»};
\node[lbl] at (2056,2151) {0..*};
\node[lbl] at (3282,1960) {+link};
\node[lbl] at (3283,1990) {1..*};
\node[lbl] at (3004,2078) {+endNode};
\node[lbl] at (2987,2128) {0..1};
\node[lbl] at (3205,2128) {0..*};
\node[lbl] at (3186,2071) {+spokeEnd};
\node[lbl] at (3188,2089) {«voidable»};
\node[lbl] at (3170,2148) {+spokeStart};
\node[lbl] at (3169,2164) {«voidable»};
\node[lbl] at (2987,2195) {0..1};
\node[lbl] at (3205,2195) {0..*};
\node[lbl] at (3007,2225) {+startNode};
\node[lbl] at (3244,2214) {+link};
\node[lbl] at (3285,2214) {1};
\node[lbl] at (3280,2252) {0..*};
\end{tikzpicture}
\end{document}
